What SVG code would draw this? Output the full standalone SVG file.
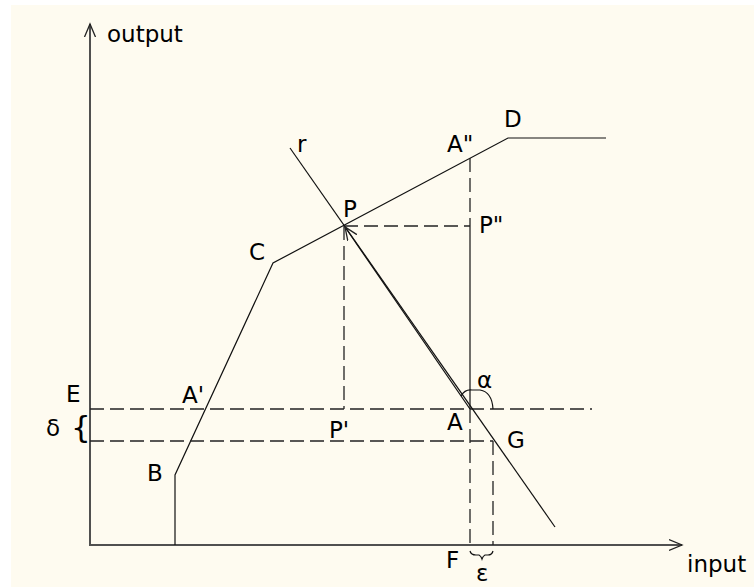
<svg xmlns="http://www.w3.org/2000/svg" width="754" height="587" viewBox="0 0 754 587">
<defs>
<style>
.t{font-family:"DejaVu Sans","Liberation Sans",sans-serif;font-size:23px;fill:#000}
.ax{stroke:#505050;stroke-width:2;fill:none}
.ln{stroke:#111;stroke-width:1.2;fill:none}
.da{stroke:#222;stroke-width:1.3;fill:none;stroke-dasharray:14 6}
</style>
<marker id="arr" markerUnits="userSpaceOnUse" markerWidth="16" markerHeight="14" refX="13" refY="6" orient="auto" viewBox="0 0 16 12">
<path d="M0,0.5 L13,6 L0,11.5" fill="none" stroke="#222" stroke-width="1.3"/>
</marker>
</defs>
<rect x="0" y="0" width="754" height="587" fill="#ffffff"/>
<rect x="11" y="5" width="743" height="582" fill="#fefbf0"/>
<g id="connectors">
<line class="ax" x1="90" y1="545" x2="90" y2="24" marker-end="url(#arr)"/>
<line class="ax" x1="89" y1="545" x2="682" y2="545" marker-end="url(#arr)"/>
<path class="ln" d="M175,545 V475 L273,263 L508,138 H606"/>
<line class="da" x1="470" y1="158" x2="470" y2="226"/>
<line class="ln" x1="470" y1="226" x2="470" y2="409"/>
<line class="da" x1="470" y1="409" x2="470" y2="545"/>
<line class="da" x1="344" y1="226" x2="344" y2="409"/>
<line class="da" x1="344" y1="226" x2="470" y2="226"/>
<line class="da" x1="90" y1="409" x2="592" y2="409"/>
<line class="da" x1="90" y1="441" x2="493" y2="441"/>
<line class="da" x1="493" y1="441" x2="493" y2="545"/>
<line class="ln" x1="290" y1="148" x2="555" y2="527"/>
<line class="ln" x1="470" y1="409" x2="345" y2="227" marker-end="url(#arr)"/>
<path class="ln" d="M461,396 Q465,389 472,390 L480,390 Q492,392 493,409"/>
<path class="ln" d="M470,551 Q471,555 476,555 L479,555 Q481,556 482,559 Q483,556 485,555 L488,555 Q492,555 493,551"/>
</g>
<g id="labels">
<text class="t" x="107" y="42">output</text>
<text class="t" x="687" y="572">input</text>
<text class="t" x="66" y="402">E</text>
<text class="t" x="46" y="436">δ</text>
<text class="t" x="71" y="438" style="font-size:31px">{</text>
<text class="t" x="182" y="403">A'</text>
<text class="t" x="147" y="481">B</text>
<text class="t" x="249" y="260">C</text>
<text class="t" x="297" y="152">r</text>
<text class="t" x="343" y="217">P</text>
<text class="t" x="447" y="152">A"</text>
<text class="t" x="504" y="127">D</text>
<text class="t" x="479" y="233">P"</text>
<text class="t" x="329" y="438">P'</text>
<text class="t" x="447" y="430">A</text>
<text class="t" x="477" y="388">α</text>
<text class="t" x="507" y="448">G</text>
<text class="t" x="446" y="568">F</text>
<text class="t" x="476" y="581">ε</text>
</g>
</svg>
